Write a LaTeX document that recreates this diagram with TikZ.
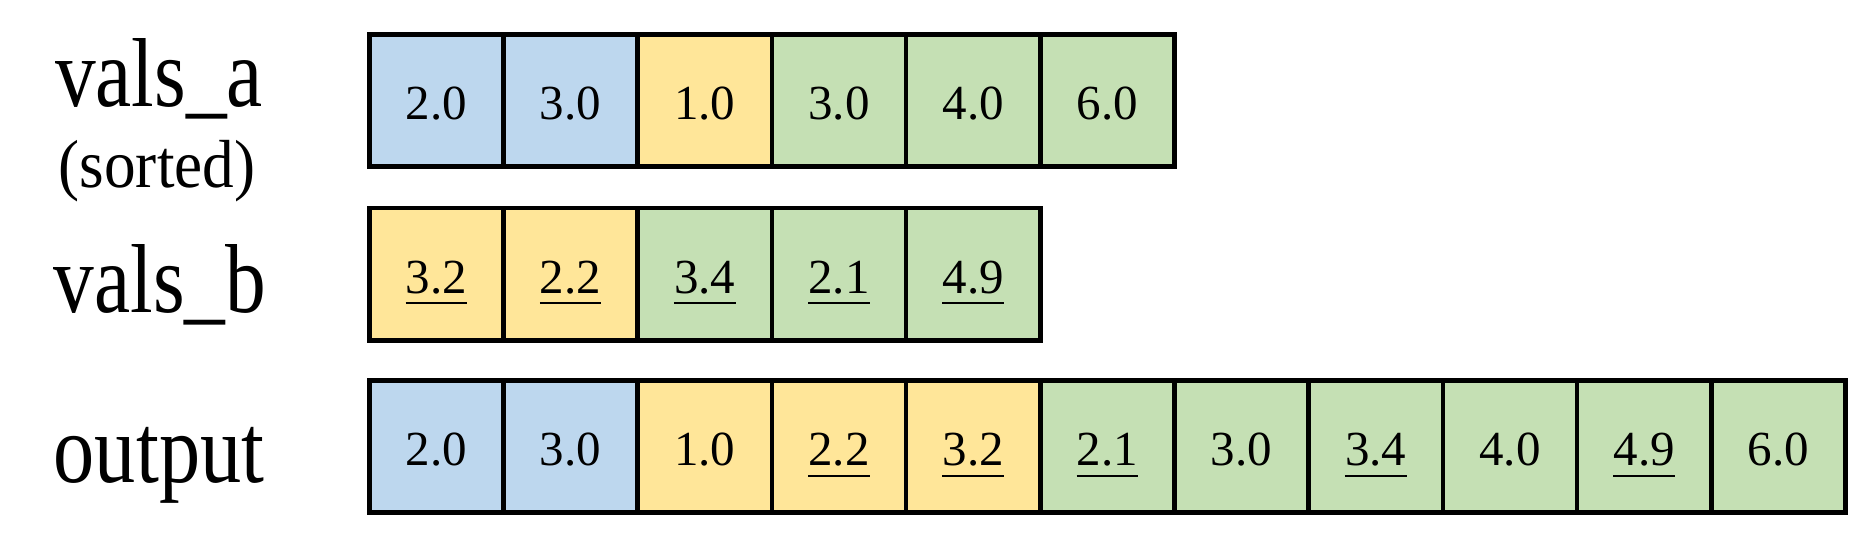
\documentclass[tikz,border=0pt]{standalone}
\usepackage{fontspec}
\setmainfont{Liberation Serif}
\usepackage{graphicx}
\definecolor{cblue}{HTML}{BDD7EE}
\definecolor{cyellow}{HTML}{FFE699}
\definecolor{cgreen}{HTML}{C5E0B4}
\begin{document}
\begin{tikzpicture}[x=1pt,y=-1pt,
  cell/.style={draw=black, line width=4.6pt, minimum width=134.2pt, minimum height=132.4pt, inner sep=0pt, outer sep=0pt},
  num/.style={font=\fontsize{49}{58}\selectfont, inner sep=0pt, anchor=base},
  lab/.style={font=\fontsize{98}{110}\selectfont, inner sep=0pt, anchor=base},
  sublab/.style={font=\fontsize{68}{80}\selectfont, inner sep=0pt, anchor=base},
  ulline/.style={line width=2pt}]
\useasboundingbox (0,0) rectangle (1849,552);
% labels
\node[lab] (la) at (159,106) {\scalebox{0.83}[1]{vals\_a}};
\node[sublab] (ls) at (157,187) {\scalebox{0.93}[1]{(sorted)}};
\node[lab] (lb) at (160,312) {\scalebox{0.83}[1]{vals\_b}};
\node[lab] (lo) at (159,482) {\scalebox{0.84}[1]{output}};
% row a
\foreach \i/\c/\t/\u in {1/cblue/2.0/0,2/cblue/3.0/0,3/cyellow/1.0/0,4/cgreen/3.0/0,5/cgreen/4.0/0,6/cgreen/6.0/0} {
  \node[cell, fill=\c] (a\i) at ({369.3+134.2*(\i-0.5)}, 100.5) {};
  \node[num] (ta\i) at ([yshift=-19pt]a\i.center) {\t};
  \ifnum\u=1 \draw[ulline] ([yshift=-10pt]ta\i.base west) -- ([yshift=-10pt]ta\i.base east); \fi
}
% row b
\foreach \i/\c/\t/\u in {1/cyellow/3.2/1,2/cyellow/2.2/1,3/cgreen/3.4/1,4/cgreen/2.1/1,5/cgreen/4.9/1} {
  \node[cell, fill=\c] (b\i) at ({369.3+134.2*(\i-0.5)}, 274) {};
  \node[num] (tb\i) at ([yshift=-19pt]b\i.center) {\t};
  \ifnum\u=1 \draw[ulline] ([yshift=-10pt]tb\i.base west) -- ([yshift=-10pt]tb\i.base east); \fi
}
% output row
\foreach \i/\c/\t/\u in {1/cblue/2.0/0,2/cblue/3.0/0,3/cyellow/1.0/0,4/cyellow/2.2/1,5/cyellow/3.2/1,6/cgreen/2.1/1,7/cgreen/3.0/0,8/cgreen/3.4/1,9/cgreen/4.0/0,10/cgreen/4.9/1,11/cgreen/6.0/0} {
  \node[cell, fill=\c] (o\i) at ({369.3+134.2*(\i-0.5)}, 446.5) {};
  \node[num] (to\i) at ([yshift=-19pt]o\i.center) {\t};
  \ifnum\u=1 \draw[ulline] ([yshift=-10pt]to\i.base west) -- ([yshift=-10pt]to\i.base east); \fi
}
\end{tikzpicture}
\end{document}
